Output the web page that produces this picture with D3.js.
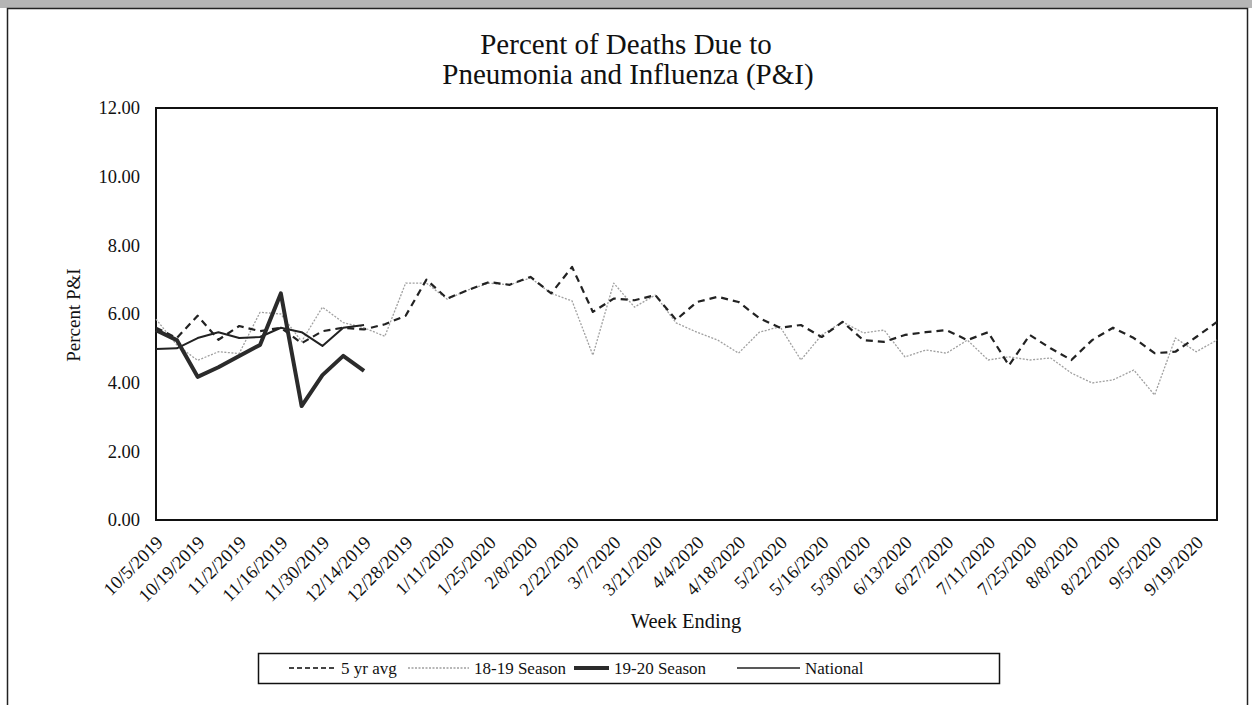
<!DOCTYPE html>
<html lang="en">
<head>
    <meta charset="utf-8" />
    <script src="https://d3js.org/d3.v7.min.js"></script>
    <style>
        body { margin: 0; background: #fff; }
        svg text { font-family: "Liberation Serif", "Times New Roman", serif; fill: #111; }
    </style>
</head>
<body>
    <script>
        // week ending dates, 10/5/2019 .. 9/26/2020
        var weeks = ["10/5/2019","10/12/2019","10/19/2019","10/26/2019","11/2/2019","11/9/2019","11/16/2019","11/23/2019",
            "11/30/2019","12/7/2019","12/14/2019","12/21/2019","12/28/2019","1/4/2020","1/11/2020","1/18/2020",
            "1/25/2020","2/1/2020","2/8/2020","2/15/2020","2/22/2020","2/29/2020","3/7/2020","3/14/2020",
            "3/21/2020","3/28/2020","4/4/2020","4/11/2020","4/18/2020","4/25/2020","5/2/2020","5/9/2020",
            "5/16/2020","5/23/2020","5/30/2020","6/6/2020","6/13/2020","6/20/2020","6/27/2020","7/4/2020",
            "7/11/2020","7/18/2020","7/25/2020","8/1/2020","8/8/2020","8/15/2020","8/22/2020","8/29/2020",
            "9/5/2020","9/12/2020","9/19/2020","9/26/2020"];

        var avg5yr = [5.6,5.3,5.95,5.25,5.65,5.5,5.6,5.15,5.5,5.6,5.55,5.7,5.95,7.0,6.45,6.7,
            6.93,6.85,7.08,6.6,7.37,6.06,6.45,6.4,6.55,5.83,6.35,6.5,6.35,5.88,5.6,5.68,
            5.33,5.77,5.24,5.19,5.39,5.47,5.53,5.24,5.47,4.5,5.39,5.0,4.66,5.24,5.6,5.3,
            4.86,4.9,5.33,5.77];

        var season1819 = [5.85,5.1,4.65,4.9,4.85,6.05,6.0,5.2,6.2,5.75,5.6,5.35,6.9,6.9,6.43,6.7,
            6.9,6.85,7.05,6.6,6.38,4.8,6.9,6.2,6.55,5.74,5.47,5.24,4.86,5.47,5.63,4.66,
            5.39,5.77,5.45,5.53,4.75,4.95,4.86,5.24,4.66,4.75,4.66,4.72,4.28,3.99,4.08,4.37,
            3.64,5.3,4.9,5.24];

        var season1920 = [5.53,5.24,4.17,4.45,4.78,5.1,6.6,3.32,4.22,4.78,4.34];

        var national = [4.98,5.0,5.3,5.47,5.3,5.33,5.6,5.47,5.07,5.6,5.68];

        var yTicks = [0,2,4,6,8,10,12];

        var width = 1252, height = 705;
        var margin = { left: 156, right: 1217, top: 108, bottom: 520 };

        var svg = d3.select("body").append("svg")
            .attr("width", width)
            .attr("height", height);

        svg.append("rect").attr("width", width).attr("height", height).attr("fill", "#fff");

        // scanned page edge
        svg.append("rect").attr("x", 0).attr("y", 0).attr("width", width).attr("height", 8)
            .attr("fill", "#b5b5b5");
        svg.append("rect").attr("x", 7.5).attr("y", 8.5).attr("width", 1240).attr("height", 720)
            .attr("fill", "none").attr("stroke", "#222").attr("stroke-width", 1.5);

        var x = d3.scalePoint().domain(weeks).range([margin.left, margin.right]);
        var y = d3.scaleLinear().domain([0, 12]).range([margin.bottom, margin.top]);

        // title
        svg.append("text").attr("x", 626).attr("y", 54).attr("text-anchor", "middle")
            .style("font-size", "29px").text("Percent of Deaths Due to");
        svg.append("text").attr("x", 628).attr("y", 84).attr("text-anchor", "middle")
            .style("font-size", "29px").text("Pneumonia and Influenza (P&I)");

        // y axis
        svg.append("g")
            .attr("transform", "translate(" + margin.left + ",0)")
            .call(d3.axisLeft(y).tickValues(yTicks).tickFormat(d3.format(".2f")).tickSize(0).tickPadding(16))
            .call(function (g) { g.select(".domain").remove(); })
            .selectAll("text")
            .style("font-size", "18.5px")
            .style("font-family", "Liberation Serif, serif");

        svg.append("text")
            .attr("transform", "translate(80,315) rotate(-90)")
            .attr("text-anchor", "middle")
            .style("font-size", "19px")
            .text("Percent P&I");

        // x axis labels every other week
        var xAxis = svg.append("g")
            .attr("transform", "translate(0," + margin.bottom + ")")
            .call(d3.axisBottom(x).tickValues(weeks.filter(function (d, i) { return i % 2 === 0; })).tickSize(0))
            .call(function (g) { g.select(".domain").remove(); });
        xAxis.selectAll("text")
            .attr("y", 0).attr("dy", "0.35em")
            .attr("transform", "translate(3,19) rotate(-45)")
            .attr("text-anchor", "end")
            .style("font-size", "18.5px")
            .style("font-family", "Liberation Serif, serif");

        svg.append("text").attr("x", 686).attr("y", 628).attr("text-anchor", "middle")
            .style("font-size", "20.5px").text("Week Ending");

        // plot frame
        svg.append("rect")
            .attr("x", margin.left).attr("y", margin.top)
            .attr("width", margin.right - margin.left).attr("height", margin.bottom - margin.top)
            .attr("fill", "none").attr("stroke", "#111").attr("stroke-width", 2);

        var line = d3.line()
            .x(function (d, i) { return x(weeks[i]); })
            .y(function (d) { return y(d); });

        var series = [
            { name: "18-19 Season", values: season1819, stroke: "#a0a0a0", width: 1.3, dash: "2,1.5" },
            { name: "5 yr avg", values: avg5yr, stroke: "#222", width: 2.2, dash: "7,5" },
            { name: "National", values: national, stroke: "#222", width: 2, dash: null },
            { name: "19-20 Season", values: season1920, stroke: "#2b2b2b", width: 4, dash: null }
        ];

        svg.append("g").selectAll("path")
            .data(series)
            .join("path")
            .attr("fill", "none")
            .attr("stroke", function (d) { return d.stroke; })
            .attr("stroke-width", function (d) { return d.width; })
            .attr("stroke-dasharray", function (d) { return d.dash; })
            .attr("stroke-linejoin", "round")
            .attr("d", function (d) { return line(d.values); });

        // legend
        var legend = svg.append("g");
        legend.append("rect").attr("x", 258.5).attr("y", 653.5).attr("width", 741).attr("height", 30)
            .attr("fill", "#fff").attr("stroke", "#111").attr("stroke-width", 1.5);

        var legendItems = [
            { name: "5 yr avg", x0: 289, x1: 336, stroke: "#444", width: 2, dash: "5,3" },
            { name: "18-19 Season", x0: 408, x1: 469, stroke: "#a0a0a0", width: 1.3, dash: "2,1.5" },
            { name: "19-20 Season", x0: 574, x1: 609, stroke: "#2b2b2b", width: 4, dash: null },
            { name: "National", x0: 737, x1: 800, stroke: "#222", width: 1.5, dash: null }
        ];

        legend.selectAll("line")
            .data(legendItems)
            .join("line")
            .attr("x1", function (d) { return d.x0; })
            .attr("x2", function (d) { return d.x1; })
            .attr("y1", 668).attr("y2", 668)
            .attr("stroke", function (d) { return d.stroke; })
            .attr("stroke-width", function (d) { return d.width; })
            .attr("stroke-dasharray", function (d) { return d.dash; });

        legend.selectAll("text")
            .data(legendItems)
            .join("text")
            .attr("x", function (d) { return d.x1 + 5; })
            .attr("y", 674)
            .style("font-size", "17px")
            .text(function (d) { return d.name; });
    </script>
</body>
</html>
